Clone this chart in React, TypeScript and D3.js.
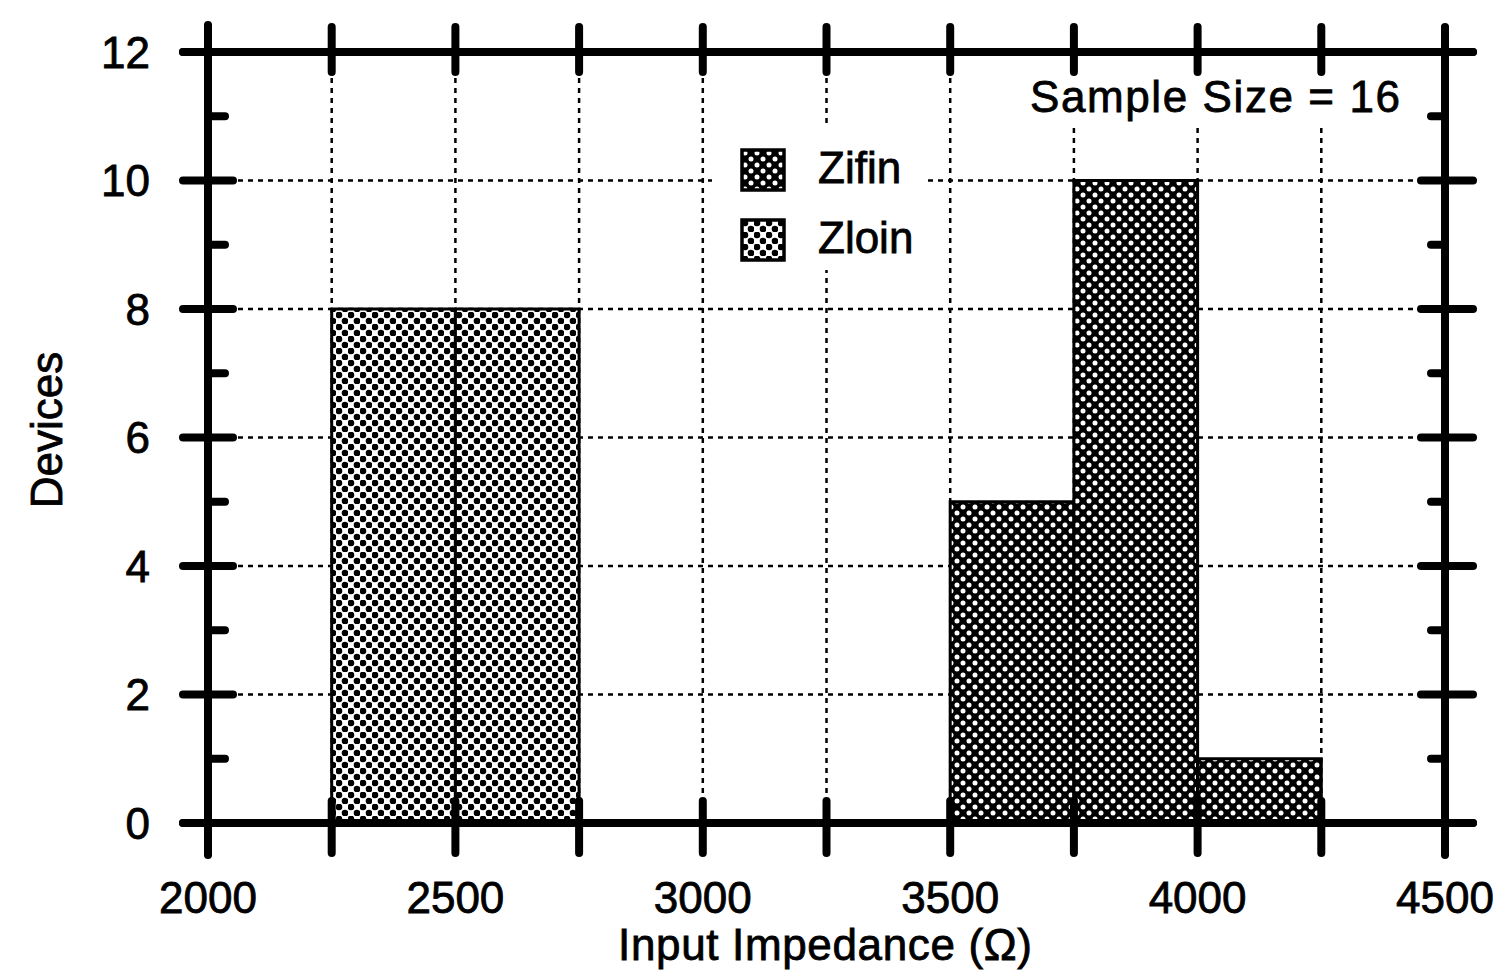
import React from 'react';
import * as d3 from 'd3';

const binEdges = [2250, 2500, 2750, 3000, 3250, 3500, 3750, 4000, 4250];
const zloinCounts = [8, 8, 0, 0, 0, 0, 0, 0];
const zifinCounts = [0, 0, 0, 0, 0, 5, 10, 1];
const xTicks = [2000, 2500, 3000, 3500, 4000, 4500];
const xMajor = [2000, 2250, 2500, 2750, 3000, 3250, 3500, 3750, 4000, 4250, 4500];
const yTicks = [0, 2, 4, 6, 8, 10, 12];
const yMinor = [1, 3, 5, 7, 9, 11];
const seriesNames = ['Zifin', 'Zloin'];

const W = 1507;
const H = 974;
const FONT = '"Liberation Sans", Arial, sans-serif';

const App = () => {
  const x = d3.scaleLinear().domain([2000, 4500]).range([208, 1445]);
  const y = d3.scaleLinear().domain([0, 12]).range([823, 52]);
  const [x0, x1] = x.range();
  const [yb, yt] = y.range();

  const bars = (counts: number[], fill: string) =>
    counts.map((c, i) =>
      c > 0 ? (
        <rect
          key={fill + i}
          x={x(binEdges[i])}
          y={y(c)}
          width={x(binEdges[i + 1]) - x(binEdges[i])}
          height={y(0) - y(c)}
          fill={fill}
          stroke="#000"
          strokeWidth={3}
        />
      ) : null
    );

  const txt = { fontFamily: FONT, fontSize: 44, fill: '#000', stroke: '#000', strokeWidth: 0.8 };

  return (
    <svg width={W} height={H} style={{ position: 'absolute', left: 0, top: 0, background: '#fff' }}>
      <defs>
        <pattern id="zifin" width={12} height={12} patternUnits="userSpaceOnUse">
          <rect width={12} height={12} fill="#000" />
          <circle cx={3} cy={3} r={2.5} fill="#fff" />
          <circle cx={9} cy={9} r={2.5} fill="#fff" />
        </pattern>
        <pattern id="zloin" width={12} height={12} patternUnits="userSpaceOnUse">
          <rect width={12} height={12} fill="#fff" />
          <circle cx={3} cy={3} r={3.3} fill="#000" />
          <circle cx={9} cy={9} r={3.3} fill="#000" />
        </pattern>
      </defs>

      {/* grid */}
      <g stroke="#000" strokeWidth={2.5} strokeDasharray="5 5">
        {xMajor.slice(1, -1).map((v) => (
          <line key={'gx' + v} x1={x(v)} x2={x(v)} y1={yb} y2={yt} />
        ))}
        {yTicks.slice(1, -1).map((v) => (
          <line key={'gy' + v} x1={x0} x2={x1} y1={y(v)} y2={y(v)} />
        ))}
      </g>

      {/* white boxes behind legend and note */}
      <rect x={712} y={125} width={213} height={145} fill="#fff" />
      <rect x={1015} y={62} width={405} height={66} fill="#fff" />

      {bars(zloinCounts, 'url(#zloin)')}
      {bars(zifinCounts, 'url(#zifin)')}

      {/* axes frame */}
      <g stroke="#000" strokeWidth={8} strokeLinecap="round">
        <line x1={183} x2={1473} y1={yb} y2={yb} />
        <line x1={183} x2={1473} y1={yt} y2={yt} />
        <line x1={x0} x2={x0} y1={25} y2={855} />
        <line x1={x1} x2={x1} y1={28} y2={855} />
        {xMajor.map((v) => (
          <g key={'tx' + v}>
            <line x1={x(v)} x2={x(v)} y1={yb - 22} y2={yb + 30} />
            <line x1={x(v)} x2={x(v)} y1={yt - 25} y2={yt + 20} />
          </g>
        ))}
        {yTicks.map((v) => (
          <g key={'ty' + v}>
            <line x1={183} x2={233} y1={y(v)} y2={y(v)} />
            <line x1={x1 - 24} x2={1473} y1={y(v)} y2={y(v)} />
          </g>
        ))}
        {yMinor.map((v) => (
          <g key={'tm' + v}>
            <line x1={x0} x2={225} y1={y(v)} y2={y(v)} />
            <line x1={x1 - 14} x2={x1} y1={y(v)} y2={y(v)} />
          </g>
        ))}
      </g>

      {/* tick labels */}
      {xTicks.map((v) => (
        <text key={'lx' + v} x={x(v)} y={913} textAnchor="middle" {...txt}>
          {v}
        </text>
      ))}
      {yTicks.map((v) => (
        <text key={'ly' + v} x={150} y={y(v)} dy="0.36em" textAnchor="end" {...txt}>
          {v}
        </text>
      ))}

      <text x={825} y={960} textAnchor="middle" {...txt} textLength={414}>
        Input Impedance (Ω)
      </text>
      <text transform="translate(62,430) rotate(-90)" textAnchor="middle" {...txt}>
        Devices
      </text>
      <text x={1030} y={112} {...txt} textLength={370}>
        Sample Size = 16
      </text>

      {/* legend */}
      {seriesNames.map((name, i) => (
        <g key={name} transform={`translate(742,${150 + i * 70})`}>
          <rect width={42} height={40} fill={`url(#${name.toLowerCase()})`} stroke="#000" strokeWidth={3.5} />
          <text x={76} y={33} {...txt}>
            {name}
          </text>
        </g>
      ))}
    </svg>
  );
};

export default App;
